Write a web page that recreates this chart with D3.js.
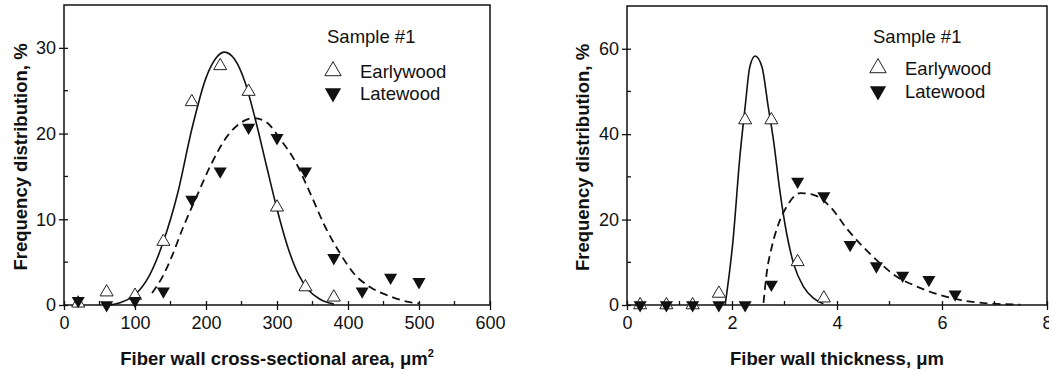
<!DOCTYPE html>
<html>
<head>
<meta charset="utf-8">
<script src="https://cdn.jsdelivr.net/npm/d3@7"></script>
<style>
  body { margin: 0; background: #fff; }
  text { font-family: "Liberation Sans", Arial, sans-serif; fill: #111; }
</style>
</head>
<body>
<script>
// ---- data ----
// left panel: fiber wall cross-sectional area (um^2)
var areaX      = [20, 60, 100, 140, 180, 220, 260, 300, 340, 380];
var areaEarly  = [0.2, 1.5, 1.1, 7.4, 23.7, 27.9, 24.9, 11.4, 2.1, 0.9];
var areaLateX  = [20, 60, 100, 140, 180, 220, 260, 300, 340, 380, 420, 460, 500];
var areaLate   = [0.5, 0, 0.5, 1.6, 12.3, 15.6, 20.7, 19.5, 15.6, 5.5, 1.6, 3.2, 2.7];

// fitted curves (traced)
var areaEarlyFitX = [65, 80, 100, 120, 140, 160, 180, 200, 215, 226, 240, 255, 270, 285, 300, 315, 330, 345, 360, 380];
var areaEarlyFitY = [0, 0.3, 1.2, 3.4, 7.4, 13.0, 20.5, 26.5, 28.9, 29.5, 28.7, 26.0, 21.5, 16.3, 11.2, 6.8, 3.6, 1.7, 0.7, 0.1];
var areaLateFitX  = [124, 140, 150, 168, 187, 206, 230, 248, 267, 284, 305, 326, 347, 368, 389, 408, 431, 460, 483, 500];
var areaLateFitY  = [1.4, 3.5, 5.3, 9.1, 12.7, 16.2, 19.7, 21.2, 21.8, 21.4, 19.3, 16.7, 13.0, 9.1, 6.0, 3.7, 2.1, 1.0, 0.4, 0.2];

// right panel: fiber wall thickness (um)
var thickX      = [0.25, 0.75, 1.25, 1.75, 2.25, 2.75, 3.25, 3.75];
var thickEarly  = [0, 0, 0, 2.7, 43.3, 43.3, 10.1, 1.6];
var thickLateX  = [0.25, 0.75, 1.25, 1.75, 2.25, 2.75, 3.25, 3.75, 4.25, 4.75, 5.25, 5.75, 6.25];
var thickLate   = [0, 0, 0, 0, 0, 4.8, 28.9, 25.5, 14.1, 9.1, 6.9, 5.9, 2.5];

var thickEarlyFitX = [1.87, 2.02, 2.15, 2.25, 2.34, 2.44, 2.57, 2.69, 2.79, 2.91, 3.04, 3.17, 3.36, 3.55, 3.74];
var thickEarlyFitY = [0, 15.2, 34.7, 46.4, 55.8, 58.3, 55.8, 46.4, 38.6, 26.9, 16.8, 9.8, 4.3, 1.6, 0.3];
var thickLateFitX  = [2.6, 2.66, 2.76, 2.89, 3.04, 3.3, 3.55, 3.87, 4.18, 4.49, 4.82, 5.14, 5.45, 5.77, 6.09, 6.47, 6.85, 7.49];
var thickLateFitY  = [0.5, 7.4, 13.7, 19.1, 23.0, 26.2, 25.8, 23.0, 18.0, 13.7, 9.8, 6.6, 4.7, 3.1, 1.9, 0.9, 0.4, 0.1];

// ticks
var areaTicks  = [0, 100, 200, 300, 400, 500, 600];
var areaMinor  = [50, 150, 250, 350, 450, 550];
var freqTicksA = [0, 10, 20, 30];
var freqMinorA = [5, 15, 25];
var thickTicks = [0, 2, 4, 6, 8];
var thickMinor = [1, 3, 5, 7];
var freqTicksB = [0, 20, 40, 60];
var freqMinorB = [10, 30, 50];

var legendTitle = "Sample #1";
var seriesNames = ["Earlywood", "Latewood"];

var svg = d3.select("body").append("svg")
    .attr("width", 1049)
    .attr("height", 371);

var triSmall = d3.symbol().type(d3.symbolTriangle).size(74);
var triBig   = d3.symbol().type(d3.symbolTriangle).size(115);

function panel(cfg) {
    var x = d3.scaleLinear().domain(cfg.xDomain).range([cfg.left, cfg.right]);
    var y = d3.scaleLinear().domain(cfg.yDomain).range([cfg.bottom, cfg.top]);
    var g = svg.append("g");

    // x axis major (crossing ticks) + minor (inward)
    var xa = g.append("g")
        .attr("transform", "translate(0," + cfg.bottom + ")")
        .call(d3.axisBottom(x).tickValues(cfg.xTicks).tickSize(5).tickPadding(6).tickFormat(d3.format("d")));
    xa.selectAll(".tick line").attr("y1", -4);
    xa.append("g").selectAll("line")
        .data(cfg.xMinor).enter().append("line")
        .attr("x1", function(d) { return x(d); })
        .attr("x2", function(d) { return x(d); })
        .attr("y1", 0).attr("y2", -4);

    // y axis
    var ya = g.append("g")
        .attr("transform", "translate(" + cfg.left + ",0)")
        .call(d3.axisLeft(y).tickValues(cfg.yTicks).tickSize(5).tickPadding(3).tickFormat(d3.format("d")));
    ya.selectAll(".tick line").attr("x1", 4);
    ya.append("g").selectAll("line")
        .data(cfg.yMinor).enter().append("line")
        .attr("y1", function(d) { return y(d); })
        .attr("y2", function(d) { return y(d); })
        .attr("x1", 0).attr("x2", 4);

    g.selectAll(".domain").remove();
    g.selectAll(".tick text").style("font-size", "18px").style("fill", "#111");
    g.selectAll("line").attr("stroke", "#111").attr("stroke-width", 1.3);

    // frame
    g.append("rect")
        .attr("x", cfg.left).attr("y", cfg.top)
        .attr("width", cfg.right - cfg.left)
        .attr("height", cfg.bottom - cfg.top)
        .attr("fill", "none")
        .attr("stroke", "#111")
        .attr("stroke-width", 1.5);

    var line = d3.line()
        .x(function(d) { return x(d[0]); })
        .y(function(d) { return y(d[1]); })
        .curve(d3.curveMonotoneX);

    g.append("path")
        .datum(d3.zip(cfg.earlyFitX, cfg.earlyFitY))
        .attr("fill", "none").attr("stroke", "#111").attr("stroke-width", 1.6)
        .attr("d", line);
    g.append("path")
        .datum(d3.zip(cfg.lateFitX, cfg.lateFitY))
        .attr("fill", "none").attr("stroke", "#111").attr("stroke-width", 1.8)
        .style("stroke-dasharray", "8,5")
        .attr("d", line);

    // markers
    g.selectAll("path.early")
        .data(d3.zip(cfg.earlyX, cfg.earlyY))
        .enter().append("path")
        .attr("class", "early")
        .attr("transform", function(d) { return "translate(" + x(d[0]) + "," + y(d[1]) + ")"; })
        .attr("d", triSmall)
        .attr("fill", "#fff").attr("stroke", "#222").attr("stroke-width", 1);
    g.selectAll("path.late")
        .data(d3.zip(cfg.lateX, cfg.lateY))
        .enter().append("path")
        .attr("class", "late")
        .attr("transform", function(d) { return "translate(" + x(d[0]) + "," + y(d[1]) + ") rotate(180)"; })
        .attr("d", triSmall)
        .attr("fill", "#111");

    // axis titles
    var xt = g.append("text")
        .attr("x", (cfg.left + cfg.right) / 2)
        .attr("y", 365)
        .attr("text-anchor", "middle")
        .style("font-size", "18.5px")
        .style("font-weight", "bold")
        .text(cfg.xTitle);
    if (cfg.xSup) {
        xt.append("tspan").attr("dy", -8).style("font-size", "11px").text(cfg.xSup);
    }
    g.append("text")
        .attr("transform", "translate(" + cfg.yTitleX + "," + ((cfg.top + cfg.bottom) / 2 + 2) + ") rotate(-90)")
        .attr("text-anchor", "middle")
        .style("font-size", "18.5px")
        .style("font-weight", "bold")
        .text("Frequency distribution, %");

    // legend
    var L = cfg.legend;
    g.append("text").attr("x", L.x).attr("y", 43).style("font-size", "18.5px").text(legendTitle);
    g.append("path")
        .attr("transform", "translate(" + L.sx + "," + L.y1 + ")")
        .attr("d", triBig)
        .attr("fill", "#fff").attr("stroke", "#222").attr("stroke-width", 1);
    g.append("path")
        .attr("transform", "translate(" + L.sx + "," + L.y2 + ") rotate(180)")
        .attr("d", triBig)
        .attr("fill", "#111");
    g.append("text").attr("x", L.tx).attr("y", L.y1 + 7).style("font-size", "18.5px").text(seriesNames[0]);
    g.append("text").attr("x", L.tx).attr("y", L.y2 + 7).style("font-size", "18.5px").text(seriesNames[1]);
}

panel({
    left: 64, right: 490, top: 5, bottom: 305,
    xDomain: [0, 600], yDomain: [0, 35],
    xTicks: areaTicks, xMinor: areaMinor, yTicks: freqTicksA, yMinor: freqMinorA,
    earlyX: areaX, earlyY: areaEarly, lateX: areaLateX, lateY: areaLate,
    earlyFitX: areaEarlyFitX, earlyFitY: areaEarlyFitY,
    lateFitX: areaLateFitX, lateFitY: areaLateFitY,
    xTitle: "Fiber wall cross-sectional area, \u03bcm", xSup: "2",
    yTitleX: 27,
    legend: {x: 327, sx: 333, tx: 360, y1: 71, y2: 93}
});

panel({
    left: 627, right: 1047, top: 6, bottom: 305,
    xDomain: [0, 8], yDomain: [0, 70],
    xTicks: thickTicks, xMinor: thickMinor, yTicks: freqTicksB, yMinor: freqMinorB,
    earlyX: thickX, earlyY: thickEarly, lateX: thickLateX, lateY: thickLate,
    earlyFitX: thickEarlyFitX, earlyFitY: thickEarlyFitY,
    lateFitX: thickLateFitX, lateFitY: thickLateFitY,
    xTitle: "Fiber wall thickness, \u03bcm", xSup: null,
    yTitleX: 589,
    legend: {x: 873, sx: 878, tx: 905, y1: 68, y2: 91}
});
</script>
</body>
</html>
